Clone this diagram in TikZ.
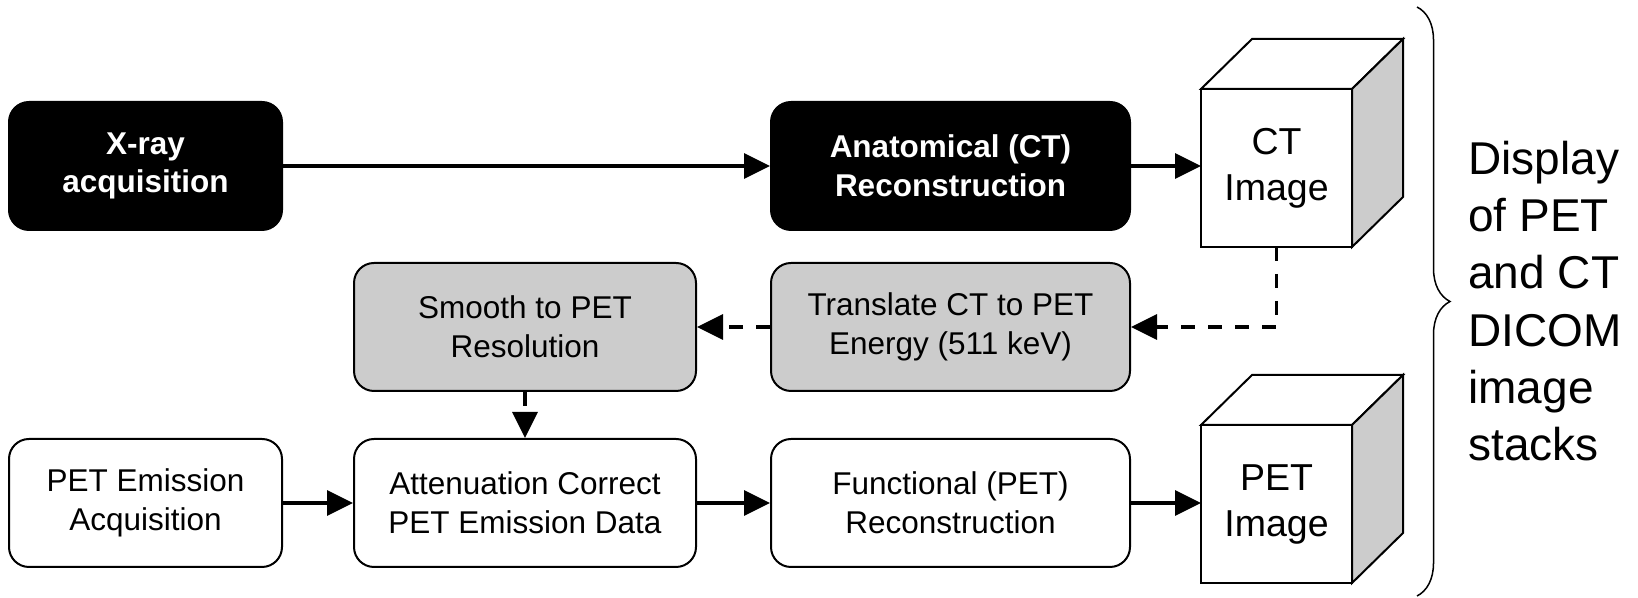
\documentclass[tikz,border=0pt]{standalone}
\usepackage{fontspec}
\setmainfont{Liberation Sans}
\usetikzlibrary{arrows.meta,calc,positioning,decorations.pathreplacing}

\definecolor{boxgray}{RGB}{204,204,204}

\begin{document}
\begin{tikzpicture}[x=0.5pt, y=0.5pt, line join=miter]
    \tikzset{
        stage/.style={rectangle, rounded corners=10pt, draw=black, line width=1pt, minimum height=64pt, inner sep=2pt, align=center, font=\fontsize{15.75}{19.3}\selectfont},
        ctStage/.style={stage, fill=black, text=white, font=\fontsize{15.75}{19.3}\selectfont\bfseries},
        corrStage/.style={stage, fill=boxgray},
        petStage/.style={stage, fill=white},
        colA/.style={minimum width=136.5pt},
        colB/.style={minimum width=171pt},
        colC/.style={minimum width=179.5pt},
        cubeFront/.style={rectangle, draw=black, fill=white, line width=1pt, outer sep=0pt, minimum width=75.5pt, minimum height=79pt, align=center, font=\fontsize{18.75}{23}\selectfont},
        cube/.style={draw=black, line width=1pt},
        flow/.style={-{Triangle[length=13pt,width=12.5pt]}, line width=1.7pt},
        ctflow/.style={flow, dash pattern=on 7pt off 6.5pt}
    }

    \newcommand{\imagecube}[1]{%
        \filldraw[cube, fill=white] (#1.north west) -- ++(25.5pt,25pt) -- ++(75.5pt,0) -- (#1.north east) -- cycle;
        \filldraw[cube, fill=boxgray] (#1.north east) -- ++(25.5pt,25pt) -- ++(0,-79pt) -- (#1.south east) -- cycle;
    }

    \useasboundingbox (0,0) rectangle (1638,598);

    % CT chain
    \node[ctStage, colA] (xray) at (145.5,432) {X-ray\\acquisition};
    \node[ctStage, colC] (anat) at (950.5,432) {Anatomical (CT)\\Reconstruction};
    \node[cubeFront] (ctimg) at (1276.5,430) {CT\\Image};
    \imagecube{ctimg}

    % Attenuation correction
    \node[corrStage, colB] (smooth) at (525,271) {Smooth to PET\\Resolution};
    \node[corrStage, colC] (transl) at (950.5,271) {Translate CT to PET\\Energy (511 keV)};

    % PET chain
    \node[petStage, colA] (pete) at (145.5,95) {PET Emission\\Acquisition};
    \node[petStage, colB] (atten) at (525,95) {Attenuation Correct\\PET Emission Data};
    \node[petStage, colC] (func) at (950.5,95) {Functional (PET)\\Reconstruction};
    \node[cubeFront] (petimg) at (1276.5,94) {PET\\Image};
    \imagecube{petimg}

    % Connectors
    \draw[flow] (xray) -- (anat);
    \draw[flow] (anat.east) -- (anat.east -| ctimg.west);
    \draw[ctflow] (ctimg.south) |- (transl.east);
    \draw[ctflow] (transl) -- (smooth);
    \draw[ctflow] (smooth) -- (atten);
    \draw[flow] (pete) -- (atten);
    \draw[flow] (atten) -- (func);
    \draw[flow] (func.east) -- (func.east -| petimg.west);

    % Display brace
    \coordinate (braceTop) at (1417,591);
    \coordinate (braceBot) at (1417,2);
    \draw[line width=0.75pt, decorate, decoration={brace, amplitude=16.5pt}] (braceTop) -- (braceBot);
    \node[anchor=west, align=left, inner sep=0pt, font=\fontsize{23}{28.6}\selectfont] (display) at (1468,297) {Display\\of PET\\and CT\\DICOM\\image\\stacks};
\end{tikzpicture}
\end{document}
